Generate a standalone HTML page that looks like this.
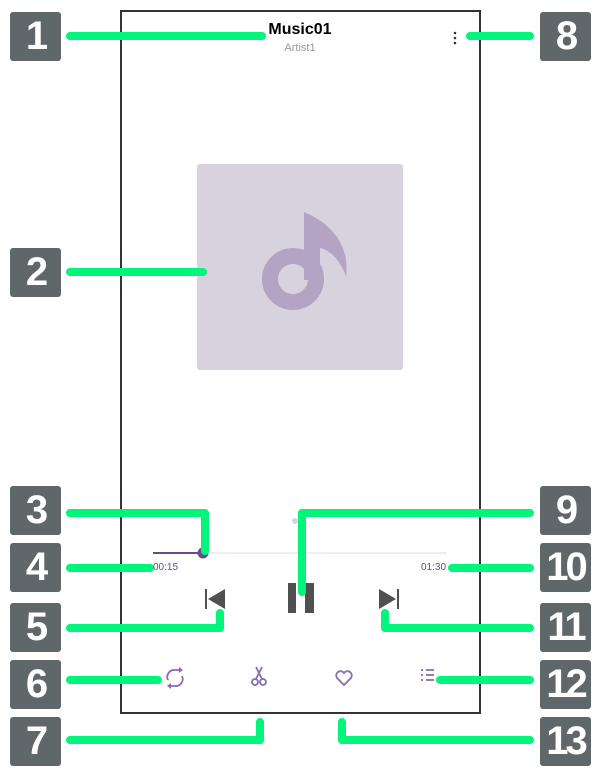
<!DOCTYPE html>
<html><head><style>
body{margin:0;width:600px;height:773px;background:#fff;position:relative;overflow:hidden;font-family:"Liberation Sans",sans-serif}
.b{position:absolute;width:51px;height:49px;background:#5f676a;border-radius:3px;color:#fff;font-weight:bold;font-size:40px;text-align:center;line-height:49px;letter-spacing:-3px}
.l{left:10px}.r{left:540px}
.t{position:absolute;font-size:10px;color:#6a4a8a}
</style></head><body>
<div style="position:absolute;left:120px;top:10px;width:357px;height:700px;border:2px solid #333;background:#fff"></div>
<div style="position:absolute;left:120px;top:21px;width:360px;text-align:center;font-weight:bold;font-size:16px">Music01</div>
<div style="position:absolute;left:120px;top:42px;width:360px;text-align:center;font-size:11px;color:#999">Artist1</div>
<div style="position:absolute;left:197px;top:164px;width:206px;height:206px;background:#d8d2de;border-radius:3px"></div>
<svg width="600" height="773" style="position:absolute;left:0;top:0">
<g fill="#333"><circle cx="455" cy="33" r="1.3"/><circle cx="455" cy="38" r="1.3"/><circle cx="455" cy="43" r="1.3"/></g>
<circle cx="293" cy="279" r="23" fill="none" stroke="#b3a4c4" stroke-width="16"/>
<path d="M304 280V212c24 10 46 30 42 64c-6-16-16-26-26-28V280z" fill="#b3a4c4"/>
<circle cx="295" cy="521" r="3" fill="#d8d2de"/><circle cx="302" cy="521" r="3" fill="#6a4a8a"/>
<line x1="153" y1="553" x2="447" y2="553" stroke="#eee" stroke-width="2"/>
<line x1="153" y1="553" x2="203" y2="553" stroke="#6a4a8a" stroke-width="2"/>
<circle cx="203" cy="553" r="5.5" fill="#6a4a8a"/>
<rect x="288" y="583" width="8" height="30" fill="#505050"/><rect x="305" y="583" width="9" height="30" fill="#505050"/>
<rect x="205" y="589" width="2" height="20" fill="#505050"/><path d="M225 589L208 599L225 609z" fill="#505050"/>
<rect x="397" y="589" width="2" height="20" fill="#505050"/><path d="M379 589L396 599L379 609z" fill="#505050"/>
<g fill="none" stroke="#8a6ab0" stroke-width="1.8">
<path d="M168 680a7 7 0 0 1 7-10h6"/><path d="M182 676a7 7 0 0 1-7 10h-6"/>
<circle cx="255" cy="682" r="3"/><circle cx="263" cy="682" r="3"/><path d="M256 679L262 667M262 679L256 667"/>
<path d="M344 685l-7-7a4 4 0 0 1 7-5a4 4 0 0 1 7 5z"/>
<path d="M426 670h8M426 675h8M426 680h8"/></g>
<g fill="#8a6ab0"><path d="M179 667l4 3l-4 3z"/><path d="M171 683l-4 3l4 3z"/>
<circle cx="422" cy="670" r="1.1"/><circle cx="422" cy="675" r="1.1"/><circle cx="422" cy="680" r="1.1"/></g>
<g fill="none" stroke="#00f57a" stroke-width="8" stroke-linecap="round" stroke-linejoin="round">
<path d="M70 36H262"/><path d="M470 36H530"/><path d="M70 272H203"/>
<path d="M70 513H205V551"/><path d="M530 513H302V592"/>
<path d="M70 568H150"/><path d="M452 568H530"/>
<path d="M70 628H220V613"/><path d="M530 628H385V613"/>
<path d="M70 680H158"/><path d="M440 680H530"/>
<path d="M70 740H260V722"/><path d="M530 740H342V722"/>
</g></svg>
<div class="t" style="left:153px;top:562px">00:15</div>
<div class="t" style="left:421px;top:562px">01:30</div>
<div class="b l" style="top:12px">1</div><div class="b l" style="top:248px">2</div>
<div class="b l" style="top:486px">3</div><div class="b l" style="top:543px">4</div>
<div class="b l" style="top:603px">5</div><div class="b l" style="top:660px">6</div>
<div class="b l" style="top:717px">7</div>
<div class="b r" style="top:12px">8</div><div class="b r" style="top:486px">9</div>
<div class="b r" style="top:543px">10</div><div class="b r" style="top:603px">11</div>
<div class="b r" style="top:660px">12</div><div class="b r" style="top:717px">13</div>
</body></html>
